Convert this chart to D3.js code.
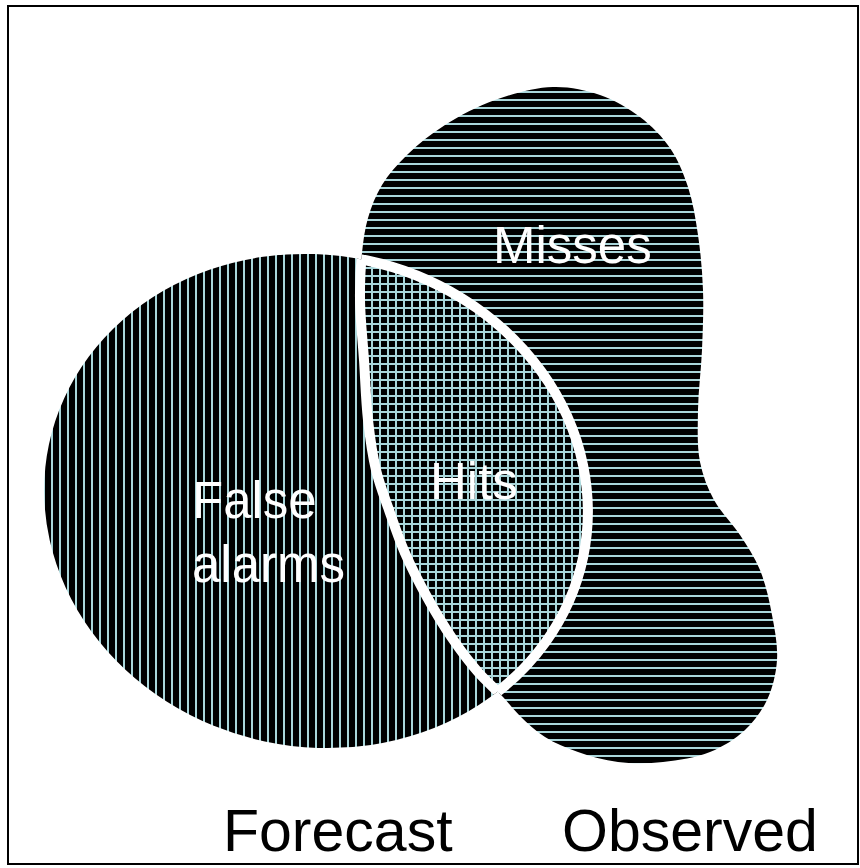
<!DOCTYPE html>
<html>
<head>
<meta charset="utf-8">
<script src="https://cdn.jsdelivr.net/npm/d3@7"></script>
<style>
  html, body { margin: 0; padding: 0; background: #fff; }
  svg { display: block; }
  text { font-family: "Liberation Sans", Arial, sans-serif; }
</style>
</head>
<body>
<script>
// outline of the Observed area, in reference units (860 x 868 sheet)
const observedOutline = [
  [553, 87], [600, 95], [640, 117], [670, 148], [688, 187], [698, 235],
  [703, 290], [702, 350], [698, 410], [700, 462], [714, 500], [740, 535],
  [760, 570], [772, 615], [777, 660], [767, 700], [745, 730], [710, 752],
  [663, 762], [618, 762], [578, 752], [545, 737], [520, 716], [503, 697],
  [478, 672], [452, 638], [427, 597], [405, 553], [389, 510], [376, 470],
  [368, 420], [364, 360], [360, 300], [362, 253], [368, 218], [382, 185],
  [407, 155], [445, 125], [495, 100]
];

// Forecast area is an ellipse: centre, radii, tilt in degrees
const forecastCenter = [316, 501];
const forecastRadii = [273, 246];
const forecastTilt = 12;

const regionLabels = ["Misses", "Hits", ["False", "alarms"]];
const setLabels = ["Forecast", "Observed"];

class VennChart {
    constructor(config) {
        this.width = config.width;
        this.height = config.height;
        this.lineColor = config.lineColor;
        this.spacing = config.spacing;

        this.x = d3.scaleLinear().domain([0, 860]).range([0, this.width]);
        this.y = d3.scaleLinear().domain([0, 868]).range([0, this.height]);

        this.svg, this.defs, this.observedPath, this.forecastPath;
    }

    init() {
        this.svg = d3.select('body')
            .append('svg')
            .attr('width', this.width)
            .attr('height', this.height);

        this.defs = this.svg.append('defs');

        // frame
        this.svg.append('rect')
            .attr('x', this.x(8))
            .attr('y', this.y(6))
            .attr('width', this.x(850))
            .attr('height', this.y(858))
            .attr('fill', 'none')
            .attr('stroke', '#000')
            .attr('stroke-width', 2);

        this.createPatterns();
        this.createShapes();
        this.createLabels();
    }

    createPatterns() {
        const s = this.spacing;
        const addPattern = (id, vertical, horizontal) => {
            let p = this.defs.append('pattern')
                .attr('id', id)
                .attr('patternUnits', 'userSpaceOnUse')
                .attr('width', s)
                .attr('height', s);
            p.append('rect').attr('width', s).attr('height', s).attr('fill', '#000');
            if (vertical) {
                p.append('rect').attr('x', 3).attr('width', 2).attr('height', s)
                    .attr('fill', this.lineColor);
            }
            if (horizontal) {
                p.append('rect').attr('y', 3).attr('width', s).attr('height', 2)
                    .attr('fill', this.lineColor);
            }
        };
        addPattern('vlines', true, false);
        addPattern('hlines', false, true);
        addPattern('grid', true, true);
    }

    // tilted ellipse as two arcs, so the fill pattern stays upright
    ellipsePath() {
        let t = forecastTilt * Math.PI / 180;
        let [cx, cy] = forecastCenter;
        let [a, b] = forecastRadii;
        let x1 = this.x(cx - a * Math.cos(t)), y1 = this.y(cy - a * Math.sin(t));
        let x2 = this.x(cx + a * Math.cos(t)), y2 = this.y(cy + a * Math.sin(t));
        let rx = this.x(a), ry = this.y(b);
        return `M${x1},${y1} A${rx},${ry} ${forecastTilt} 0 1 ${x2},${y2} ` +
               `A${rx},${ry} ${forecastTilt} 0 1 ${x1},${y1} Z`;
    }

    createShapes() {
        const line = d3.line()
            .x(d => this.x(d[0]))
            .y(d => this.y(d[1]))
            .curve(d3.curveCatmullRomClosed.alpha(0.5));
        this.observedPath = line(observedOutline);
        this.forecastPath = this.ellipsePath();

        this.defs.append('clipPath').attr('id', 'clip-forecast')
            .append('path').attr('d', this.forecastPath);
        this.defs.append('clipPath').attr('id', 'clip-observed')
            .append('path').attr('d', this.observedPath);

        // Observed: horizontal lines
        this.svg.append('path')
            .attr('d', this.observedPath)
            .attr('fill', 'url(#hlines)');

        // Forecast: vertical lines
        this.svg.append('path')
            .attr('d', this.forecastPath)
            .attr('fill', 'url(#vlines)');

        // overlap: both
        this.svg.append('g')
            .attr('clip-path', 'url(#clip-forecast)')
            .append('path')
            .attr('d', this.observedPath)
            .attr('fill', 'url(#grid)');

        // white outline round the overlap
        this.svg.append('g')
            .attr('clip-path', 'url(#clip-observed)')
            .append('path')
            .attr('d', this.forecastPath)
            .attr('fill', 'none')
            .attr('stroke', '#fff')
            .attr('stroke-width', 10);

        this.svg.append('g')
            .attr('clip-path', 'url(#clip-forecast)')
            .append('path')
            .attr('d', this.observedPath)
            .attr('fill', 'none')
            .attr('stroke', '#fff')
            .attr('stroke-width', 10);
    }

    createLabels() {
        const inner = this.svg.append('g').attr('fill', '#fff').attr('font-size', 51);

        inner.append('text')
            .attr('x', this.x(493)).attr('y', this.y(263))
            .text(regionLabels[0]);

        inner.append('text')
            .attr('x', this.x(430)).attr('y', this.y(499))
            .text(regionLabels[1]);

        inner.append('text')
            .selectAll('tspan')
            .data(regionLabels[2])
            .enter()
            .append('tspan')
            .attr('x', this.x(192))
            .attr('y', (d, i) => this.y(518 + i * 64))
            .text(d => d);

        this.svg.append('g')
            .attr('fill', '#000')
            .attr('font-size', 59)
            .selectAll('text')
            .data(setLabels)
            .enter()
            .append('text')
            .attr('x', (d, i) => this.x([223, 562][i]))
            .attr('y', this.y(851))
            .text(d => d);
    }
}

const chart = new VennChart({
    width: 860,
    height: 868,
    lineColor: '#a9d6da',
    spacing: 8
});
chart.init();
</script>
</body>
</html>
